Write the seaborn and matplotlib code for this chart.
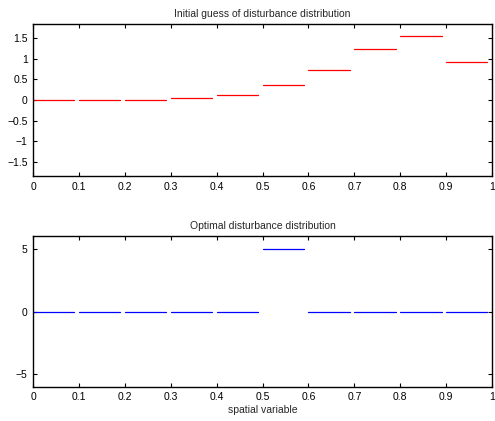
import numpy as np
import pandas as pd
import matplotlib
matplotlib.use("Agg")
import matplotlib.pyplot as plt
import seaborn as sns

# Data
seg_starts = [0.0, 0.1, 0.2, 0.3, 0.4, 0.5, 0.6, 0.7, 0.8, 0.9]
seg_width = 0.09
initial_guess = [0.0, 0.0, 0.01, 0.04, 0.13, 0.36, 0.74, 1.24, 1.55, 0.93]
optimal = [0.0, 0.0, 0.0, 0.0, 0.0, 5.0, 0.0, 0.0, 0.0, 0.0]
xtick_vals = [0, 0.1, 0.2, 0.3, 0.4, 0.5, 0.6, 0.7, 0.8, 0.9, 1.0]
xtick_labels = ["0", "0.1", "0.2", "0.3", "0.4", "0.5", "0.6", "0.7", "0.8", "0.9", "1"]
top_ytick_vals = [-1.5, -1, -0.5, 0, 0.5, 1, 1.5]
top_ytick_labels = ["\u22121.5", "\u22121", "\u22120.5", "0", "0.5", "1", "1.5"]
bot_ytick_vals = [-5, 0, 5]
bot_ytick_labels = ["\u22125", "0", "5"]


def seg_frame(values):
    rows = []
    for i, (s, v) in enumerate(zip(seg_starts, values)):
        rows.append({"x": s, "y": v, "seg": i})
        rows.append({"x": s + seg_width, "y": v, "seg": i})
    return pd.DataFrame(rows)


sns.set_style("white")
plt.rcParams["font.family"] = ["Liberation Sans", "DejaVu Sans"]
plt.rcParams["axes.unicode_minus"] = True

fig = plt.figure(figsize=(4.95, 4.21), dpi=100)
ax1 = fig.add_axes([0.067, 0.582, 0.927, 0.361])
ax2 = fig.add_axes([0.067, 0.081, 0.927, 0.358])

df1 = seg_frame(initial_guess)
df2 = seg_frame(optimal)

sns.lineplot(data=df1, x="x", y="y", units="seg", estimator=None,
             color="#ff0000", lw=0.9, ax=ax1, legend=False)
sns.lineplot(data=df2, x="x", y="y", units="seg", estimator=None,
             color="#0000ff", lw=0.9, ax=ax2, legend=False)

for ax, yv, yl, ylim in [(ax1, top_ytick_vals, top_ytick_labels, (-1.85, 1.85)),
                         (ax2, bot_ytick_vals, bot_ytick_labels, (-6, 6))]:
    ax.set_xlim(0, 1)
    ax.set_ylim(*ylim)
    ax.set_xticks(xtick_vals)
    ax.set_xticklabels(xtick_labels)
    ax.set_yticks(yv)
    ax.set_yticklabels(yl)
    ax.tick_params(direction="in", length=3, width=0.8, labelsize=7.5,
                   top=True, right=True, bottom=True, left=True, pad=4,
                   colors="black")
    for sp in ax.spines.values():
        sp.set_visible(True)
        sp.set_color("black")
        sp.set_linewidth(1.0)
    ax.set_xlabel("")
    ax.set_ylabel("")

ax1.set_title("Initial guess of disturbance distribution", fontsize=7.5, pad=5)
ax2.set_title("Optimal disturbance distribution", fontsize=7.5, pad=5)
ax2.set_xlabel("spatial variable", fontsize=7.5, labelpad=2)

fig.savefig("out.png", dpi=100)
